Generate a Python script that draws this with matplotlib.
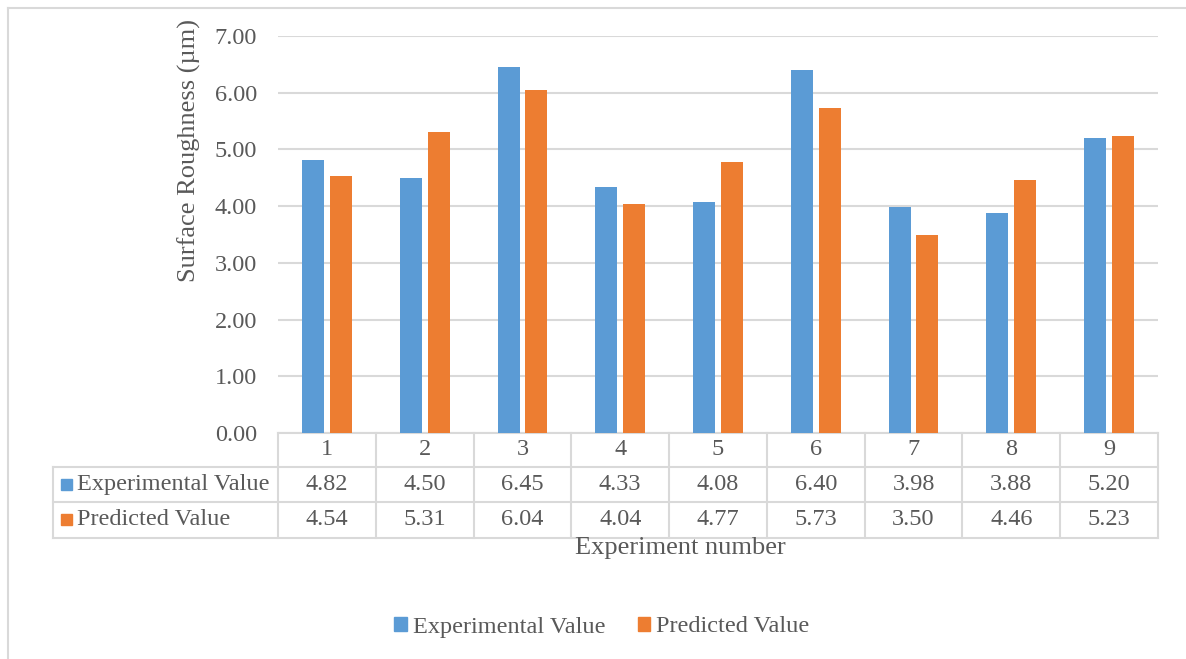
import matplotlib.pyplot as plt
import matplotlib.transforms as mtransforms
from matplotlib.lines import Line2D
from matplotlib.patches import Rectangle
import numpy as np

plt.rcParams['font.family'] = ['Liberation Serif', 'DejaVu Serif']

experiments = ['1', '2', '3', '4', '5', '6', '7', '8', '9']
experimental = [4.82, 4.50, 6.45, 4.33, 4.08, 6.40, 3.98, 3.88, 5.20]
predicted = [4.54, 5.31, 6.04, 4.04, 4.77, 5.73, 3.50, 4.46, 5.23]
series_names = ['Experimental Value', 'Predicted Value']
colors = ['#5b9bd5', '#ed7d31']
grid_color = '#d9d9d9'
text_color = '#595959'

W, H = 1186, 659
fig = plt.figure(figsize=(W / 100, H / 100), dpi=100)

# outer chart border (right/bottom edges run off the canvas)
fig.add_artist(Line2D([7.5 / W, 7.5 / W], [0, 1 - 7.5 / H], color=grid_color, lw=1.5))
fig.add_artist(Line2D([7.5 / W, 1], [1 - 7.5 / H, 1 - 7.5 / H], color=grid_color, lw=1.5))

left, right, top, bottom = 278, 1158, 36, 433
ax = fig.add_axes([left / W, 1 - bottom / H, (right - left) / W, (bottom - top) / H])

x = np.arange(len(experiments))
bw = 0.225
gap = 0.06
ax.bar(x - (bw + gap) / 2, experimental, bw, color=colors[0], zorder=3)
ax.bar(x + (bw + gap) / 2, predicted, bw, color=colors[1], zorder=3)

fs = 17.5
title_fs = 19

ax.set_xlim(-0.5, len(experiments) - 0.5)
ax.set_ylim(0, 7)
ax.set_yticks(np.arange(0, 8, 1))
ax.set_yticklabels([f'{v:.2f}' for v in np.arange(0, 8, 1)])
ax.tick_params(axis='y', length=0, pad=15, labelsize=fs, labelcolor=text_color)
ax.set_xticks([])
ax.grid(axis='y', color=grid_color, lw=1.5, zorder=0)
for s in ax.spines.values():
    s.set_visible(False)
ax.set_ylabel('Surface Roughness (µm)', fontsize=title_fs, color=text_color, labelpad=10)
ax.yaxis.label.set_y((bottom - 150) / (bottom - top))

# data table under the plot
px = 1 / (bottom - top)  # one pixel in axes-fraction units
row_edges = [0, -33.5 * px, -69 * px, -104.5 * px]
trans = mtransforms.blended_transform_factory(ax.transData, ax.transAxes)
tl = dict(color=grid_color, lw=1.5, clip_on=False)
x0_label = (53 - left) / (right - left)
tx_axes = ax.transAxes

# horizontal lines
ax.plot([-0.5, len(experiments) - 0.5], [row_edges[0]] * 2, transform=trans, **tl)
for y in row_edges[1:]:
    ax.plot([x0_label, 1], [y, y], transform=tx_axes, **tl)
# vertical lines
for i in range(len(experiments) + 1):
    ax.plot([i - 0.5, i - 0.5], [row_edges[0], row_edges[3]], transform=trans, **tl)
ax.plot([x0_label, x0_label], [row_edges[1], row_edges[3]], transform=tx_axes, **tl)

for i, lab in enumerate(experiments):
    ax.text(i, (row_edges[0] + row_edges[1]) / 2, lab, transform=trans,
            ha='center', va='center', fontsize=fs, color=text_color)
    ax.text(i, (row_edges[1] + row_edges[2]) / 2, f'{experimental[i]:.2f}', transform=trans,
            ha='center', va='center', fontsize=fs, color=text_color)
    ax.text(i, (row_edges[2] + row_edges[3]) / 2, f'{predicted[i]:.2f}', transform=trans,
            ha='center', va='center', fontsize=fs, color=text_color)

sq = 11 * px
sq_x = (61 - left) / (right - left)
for r, (name, c) in enumerate(zip(series_names, colors)):
    yc = (row_edges[r + 1] + row_edges[r + 2]) / 2
    ax.add_patch(Rectangle((sq_x, yc - sq / 2), sq * (bottom - top) / (right - left), sq,
                           transform=tx_axes, color=c, clip_on=False))
    ax.text((77 - left) / (right - left), yc, name, transform=tx_axes,
            ha='left', va='center', fontsize=fs, color=text_color)

fig.text(680 / W, 1 - 548 / H, 'Experiment number', ha='center', va='center',
         fontsize=title_fs, color=text_color)

handles = [Rectangle((0, 0), 1, 1, color=c) for c in colors]
fig.legend(handles, series_names, loc='center', bbox_to_anchor=(602 / W, 1 - 627 / H),
           ncol=2, frameon=False, fontsize=fs, labelcolor=text_color,
           handlelength=0.5, handleheight=0.5, handletextpad=0.25, columnspacing=1.35)

fig.savefig('out.png', dpi=100)
